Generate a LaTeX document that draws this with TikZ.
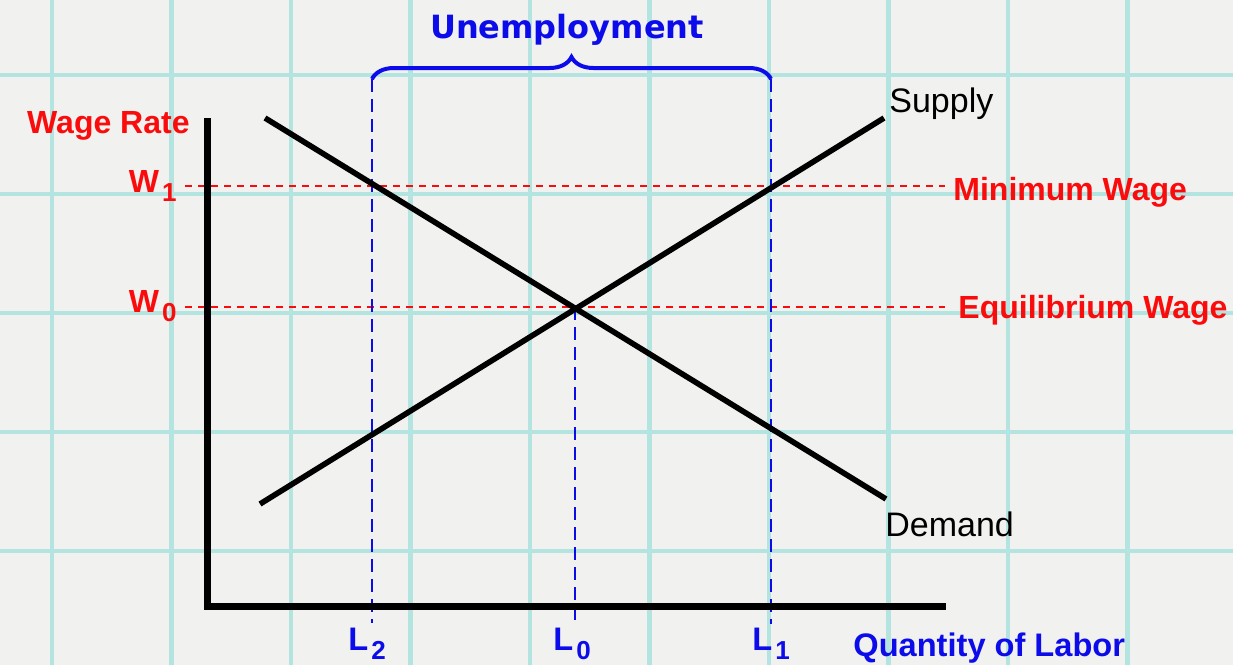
\documentclass[tikz,border=0pt]{standalone}
\usepackage{fontspec}
\setmainfont{Liberation Sans}
\newfontfamily\widefont{DejaVu Sans}
\usetikzlibrary{decorations.pathreplacing}
\definecolor{paper}{RGB}{241,241,239}
\definecolor{gridcyan}{RGB}{180,228,224}
\definecolor{labred}{RGB}{250,12,12}
\definecolor{labblue}{RGB}{12,12,235}
\newcommand{\lsub}[1]{\kern1.5pt\raisebox{-4.5pt}{\fontsize{13}{13}\selectfont\bfseries #1}}
\tikzset{
  gridline/.style={draw=gridcyan,line width=2.2pt},
  axisline/.style={draw=black,line width=3.5pt,line join=miter},
  curve/.style={draw=black,line width=2.8pt},
  wagedash/.style={draw=labred,line width=1.1pt,dash pattern=on 3.5pt off 3pt},
  labordash/.style={draw=labblue,line width=0.9pt,dash pattern=on 6.5pt off 3.5pt},
  redlab/.style={text=labred,font=\fontsize{16}{19}\selectfont\bfseries,inner sep=0pt},
  bluelab/.style={text=labblue,font=\fontsize{16.3}{19}\selectfont\bfseries,inner sep=0pt},
  blacklab/.style={text=black,font=\fontsize{17}{20}\selectfont,inner sep=0pt},
}
\begin{document}
\begin{tikzpicture}[x=0.5pt,y=-0.5pt]
  % paper and grid
  \fill[paper] (0,0) rectangle (1233,665);
  \useasboundingbox (0,0) rectangle (1233,665);
  \foreach \gx in {0,...,9}{\draw[gridline] ({52+119.5*\gx},0) -- ++(0,665);}
  \foreach \gy in {0,...,4}{\draw[gridline] (0,{75+119*\gy}) -- ++(1233,0);}

  % key points
  \coordinate (O) at (207,606);
  \coordinate (ytop) at (207,118);
  \coordinate (xend) at (946,606);
  \coordinate (dhi) at (265,118);  \coordinate (dlo) at (886,499);
  \coordinate (slo) at (260,504);  \coordinate (shi) at (884,118);
  \coordinate (E) at (575,307);
  \coordinate (w1a) at (185,186);  \coordinate (w1b) at (945,186);
  \coordinate (w0a) at (185,307);  \coordinate (w0b) at (945,307);
  \coordinate (l2top) at (372,79); \coordinate (l2bot) at (372,623);
  \coordinate (l0bot) at (575,620);
  \coordinate (l1top) at (771,79); \coordinate (l1bot) at (771,624);

  % wage and labour guides
  \draw[wagedash] (w1a) -- (w1b);
  \draw[wagedash] (w0a) -- (w0b);
  \draw[labordash] (l2top) -- (l2bot);
  \draw[labordash] (E) -- (l0bot);
  \draw[labordash] (l1top) -- (l1bot);

  % axes and curves
  \draw[axisline] (ytop) -- (O) -- (xend);
  \draw[curve] (dhi) -- (dlo);
  \draw[curve] (slo) -- (shi);

  % brace over the gap
  \draw[labblue,line width=2pt,decorate,decoration={brace,amplitude=11pt}] (l2top) -- (l1top);
  \node[bluelab,font=\widefont\fontsize{16}{19}\selectfont\bfseries,anchor=base] (unemp) at (567,38) {Unemployment};

  % labels
  \node[redlab,anchor=base east] (wrate) at (190,133) {Wage Rate};
  \node[redlab,anchor=base east] (w1) at (177,192) {W\lsub{1}};
  \node[redlab,anchor=base east] (w0) at (177,312) {W\lsub{0}};
  \node[redlab,anchor=base west] (minw) at (953,200) {Minimum Wage};
  \node[redlab,anchor=base west] (eqw) at (958,318) {Equilibrium Wage};
  \node[blacklab,anchor=base west] (supply) at (889,112) {Supply};
  \node[blacklab,anchor=base west] (demand) at (885,536) {Demand};
  \node[bluelab,anchor=base west] (l2) at (348,650) {L\lsub{2}};
  \node[bluelab,anchor=base west] (l0) at (553,650) {L\lsub{0}};
  \node[bluelab,anchor=base west] (l1) at (752,650) {L\lsub{1}};
  \node[bluelab,anchor=base west] (qty) at (853,656) {Quantity of Labor};
\end{tikzpicture}
\end{document}
